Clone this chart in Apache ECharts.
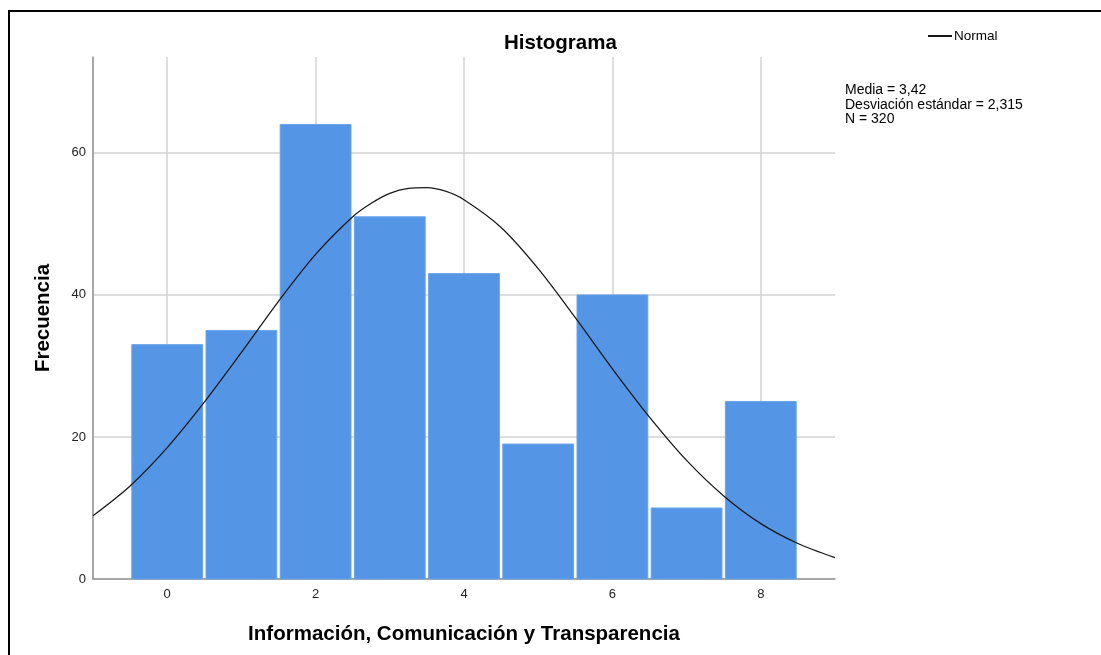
<!DOCTYPE html>
<html><head><meta charset="utf-8">
<script src="https://cdn.jsdelivr.net/npm/echarts@6/dist/echarts.min.js"></script>
<style>html,body{margin:0;padding:0;background:#fff}#c{width:1101px;height:655px}</style>
</head><body><div id="c"></div>
<script>
const binCenters = [0, 1, 2, 3, 4, 5, 6, 7, 8];
const frequencies = [33, 35, 64, 51, 43, 19, 40, 10, 25];
const curveX = [-1, -0.5, 0, 0.5, 1, 1.5, 2, 2.5, 2.75, 3, 3.25, 3.5, 3.75, 4, 4.5, 5, 5.5, 6, 6.5, 7, 7.5, 8, 8.5, 9];
const curveY = [8.9, 13.1, 18.5, 24.9, 31.9, 39.1, 45.7, 51.0, 52.9, 54.3, 55.0, 55.1, 54.6, 53.4, 49.5, 43.7, 36.8, 29.6, 22.8, 16.7, 11.7, 7.8, 5.0, 3.0];
const xTickLabels = [0, 2, 4, 6, 8];
const yTickLabels = [0, 20, 40, 60];
const statsLines = ['Media = 3,42', 'Desviación estándar = 2,315', 'N = 320'];

const FONT = '"Liberation Sans", Arial, sans-serif';
const chart = echarts.init(document.getElementById('c'), null, {renderer: 'canvas'});
chart.setOption({
  animation: false,
  backgroundColor: '#fff',
  title: {
    text: 'Histograma', left: 499, top: 28,
    textStyle: {fontFamily: FONT, fontSize: 20.5, fontWeight: 'bold', color: '#000'}
  },
  legend: {
    left: 923, top: 24, itemWidth: 24, itemHeight: 2, itemGap: 4,
    data: [{name: 'Normal', icon: 'rect'}],
    textStyle: {fontFamily: FONT, fontSize: 13.5, color: '#000', padding: [0, 0, 0, -3]}
  },
  graphic: [
    {type: 'text', left: 845, top: 83,
     style: {text: statsLines.join('\n'), font: '14px ' + FONT, fill: '#000', lineHeight: 14.5}},
    {type: 'line', shape: {x1: 9, y1: 10, x2: 9, y2: 655}, style: {stroke: '#000', lineWidth: 2}},
    {type: 'line', shape: {x1: 8, y1: 11, x2: 1101, y2: 11}, style: {stroke: '#000', lineWidth: 2}}
  ],
  grid: {left: 93, right: 266, top: 57, bottom: 76, containLabel: false},
  xAxis: {
    type: 'value', min: -1, max: 9, interval: 1,
    name: 'Información, Comunicación y Transparencia', nameLocation: 'middle', nameGap: 45,
    nameTextStyle: {fontFamily: FONT, fontSize: 20.5, fontWeight: 'bold', color: '#000'},
    axisLine: {show: true, onZero: false, lineStyle: {color: '#8a8a8a', width: 1.5}},
    axisTick: {show: false},
    axisLabel: {
      fontFamily: FONT, fontSize: 13, color: '#222', margin: 9,
      formatter: v => (xTickLabels.indexOf(v) >= 0 ? String(v) : '')
    },
    splitLine: {show: true, lineStyle: {color: ['transparent', '#d3d3d3'], width: 1.5}}
  },
  yAxis: {
    type: 'value', min: 0, max: 73.5, interval: 20,
    name: 'Frecuencia', nameLocation: 'middle', nameGap: 39, nameRotate: 90,
    nameTextStyle: {fontFamily: FONT, fontSize: 20.5, fontWeight: 'bold', color: '#000'},
    axisLine: {show: true, onZero: false, lineStyle: {color: '#8a8a8a', width: 1.5}},
    axisTick: {show: false},
    axisLabel: {
      fontFamily: FONT, fontSize: 13, color: '#222', margin: 7,
      formatter: v => (yTickLabels.indexOf(v) >= 0 ? String(v) : ''),
      showMaxLabel: false
    },
    splitLine: {show: true, lineStyle: {color: ['transparent', '#d3d3d3', '#d3d3d3', '#d3d3d3', 'transparent'], width: 1.5}}
  },
  series: [
    {
      type: 'custom', name: 'Frecuencia', z: 2,
      data: binCenters.map((x, i) => [x, frequencies[i]]),
      renderItem: function (params, api) {
        const x = api.value(0), y = api.value(1);
        const p0 = api.coord([x - 0.5, y]);
        const p1 = api.coord([x + 0.5, 0]);
        return {
          type: 'rect',
          shape: {x: p0[0] + 1.7, y: p0[1], width: p1[0] - p0[0] - 3.4, height: p1[1] - p0[1]},
          style: {fill: '#5595e5', stroke: '#6aa3ea', lineWidth: 1}
        };
      }
    },
    {
      type: 'line', name: 'Normal', z: 3, smooth: 0.3, symbol: 'none',
      data: curveX.map((x, i) => [x, curveY[i]]),
      lineStyle: {color: '#1a1a1a', width: 1.3},
      itemStyle: {color: '#1a1a1a'}
    }
  ]
});
</script>
</body></html>
